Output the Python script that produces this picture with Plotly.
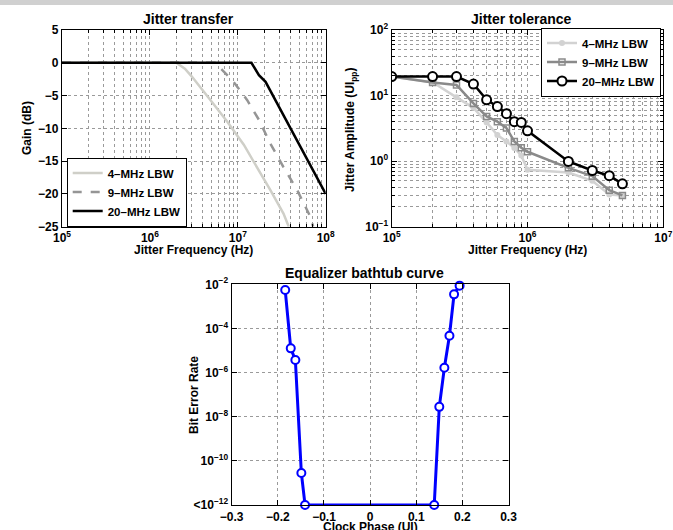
import plotly.graph_objects as go

# ---------------- data ----------------
transfer_freq_4 = [1e5, 2.0e6, 2.5e6, 3.0e6, 4.9e6, 7.6e6, 1.17e7, 1.66e7, 2.34e7, 3.31e7, 3.8e7]
transfer_gain_4 = [0, 0, -0.9, -2.1, -5.7, -9.0, -12.5, -15.9, -19.4, -23.0, -25.0]
transfer_freq_9 = [1e5, 5.5e6, 8.6e6, 1.28e7, 1.74e7, 2.34e7, 3.31e7, 4.73e7, 6.7e7, 7.2e7]
transfer_gain_9 = [0, 0, -2.6, -5.7, -8.7, -12.3, -15.9, -19.4, -23.5, -25.0]
transfer_freq_20 = [1e5, 1.43e7, 1.74e7, 2.07e7, 1e8]
transfer_gain_20 = [0, 0, -1.9, -2.9, -20.0]

tol_freq = [1e5, 2e5, 3e5, 4e5, 5e5, 6e5, 7e5, 8e5, 9e5, 1e6, 2e6, 3e6, 4e6, 5e6]
tol_4 = [19.5, 16.0, 9.4, 6.5, 3.9, 2.5, 2.0, 1.58, 1.22, 0.74, 0.67, 0.50, 0.31, 0.30]
tol_9 = [19.5, 15.8, 14.5, 7.6, 4.8, 4.0, 3.2, 2.0, 1.6, 1.39, 0.79, 0.59, 0.36, 0.30]
tol_20 = [19.5, 19.5, 19.5, 15.0, 8.6, 6.8, 5.3, 4.0, 3.9, 2.9, 0.99, 0.72, 0.60, 0.45]

bt_phase = [-0.184, -0.172, -0.162, -0.149, -0.141, 0.139, 0.150, 0.161, 0.172, 0.182, 0.194]
bt_ber = [5.5e-3, 1.25e-5, 3.7e-6, 2.8e-11, 1e-12, 1e-12, 2.8e-8, 1.65e-6, 4.7e-5, 3.5e-3, 8.7e-3]

series_names = ["4\u2013MHz LBW", "9\u2013MHz LBW", "20\u2013MHz LBW"]

transfer_xticks = [1e5, 1e6, 1e7, 1e8]
transfer_xtext = ["10<sup>5</sup>", "10<sup>6</sup>", "10<sup>7</sup>", "10<sup>8</sup>"]
transfer_yticks = [-25, -20, -15, -10, -5, 0, 5]
tol_xticks = [1e5, 1e6, 1e7]
tol_xtext = ["10<sup>5</sup>", "10<sup>6</sup>", "10<sup>7</sup>"]
tol_yticks = [0.1, 1, 10, 100]
tol_ytext = ["10<sup>\u22121</sup>", "10<sup>0</sup>", "10<sup>1</sup>", "10<sup>2</sup>"]
bt_yticks = [1e-12, 1e-10, 1e-8, 1e-6, 1e-4, 1e-2]
bt_ytext = ["&lt;10<sup>\u221212</sup>", "10<sup>\u221210</sup>", "10<sup>\u22128</sup>",
            "10<sup>\u22126</sup>", "10<sup>\u22124</sup>", "10<sup>\u22122</sup>"]
bt_xticks = [-0.3, -0.2, -0.1, 0, 0.1, 0.2, 0.3]

# ---------------- layout helpers ----------------
W, H = 673, 530
FONT = "Liberation Sans"


def dx(a, b):
    return [a / W, b / W]


def dy(top, bottom):
    return [1 - bottom / H, 1 - top / H]


def minor_log(lo, hi):
    vals = []
    for e in range(lo, hi):
        for m in range(2, 10):
            vals.append(m * 10 ** e)
    return vals


tickfont = dict(family=FONT, size=12, color="black", weight="bold")
GRID = "#9a9a9a"

base_axis = dict(showline=True, linecolor="black", linewidth=1.3, mirror="ticks",
                 ticks="inside", ticklen=5, tickcolor="black", tickwidth=1,
                 tickfont=tickfont, zeroline=False, showgrid=True, automargin=False,
                 gridcolor=GRID, griddash="dot", gridwidth=1)

fig = go.Figure()

# ---- Jitter transfer ----
fig.add_trace(go.Scatter(x=transfer_freq_4, y=transfer_gain_4, mode="lines", name=series_names[0],
                         line=dict(color="#cfcfc8", width=2.5), xaxis="x", yaxis="y", legend="legend"))
fig.add_trace(go.Scatter(x=transfer_freq_9, y=transfer_gain_9, mode="lines", name=series_names[1],
                         line=dict(color="#959595", width=2.5, dash="dash"), xaxis="x", yaxis="y", legend="legend"))
fig.add_trace(go.Scatter(x=transfer_freq_20, y=transfer_gain_20, mode="lines", name=series_names[2],
                         line=dict(color="black", width=2.5), xaxis="x", yaxis="y", legend="legend"))

# ---- Jitter tolerance ----
fig.add_trace(go.Scatter(x=tol_freq, y=tol_4, mode="lines+markers", name=series_names[0],
                         line=dict(color="#d2d2d2", width=2.5),
                         marker=dict(symbol="circle", size=6, color="#d2d2d2"),
                         xaxis="x2", yaxis="y2", legend="legend2"))
fig.add_trace(go.Scatter(x=tol_freq, y=tol_9, mode="lines+markers", name=series_names[1],
                         line=dict(color="#8a8a8a", width=2.5),
                         marker=dict(symbol="square-open", size=6, color="#8a8a8a", line=dict(width=1.5)),
                         xaxis="x2", yaxis="y2", legend="legend2"))
fig.add_trace(go.Scatter(x=tol_freq, y=tol_20, mode="lines+markers", name=series_names[2],
                         line=dict(color="black", width=2.5),
                         marker=dict(symbol="circle", size=9, color="white", line=dict(color="black", width=2)),
                         xaxis="x2", yaxis="y2", legend="legend2"))

# ---- Bathtub ----
fig.add_trace(go.Scatter(x=bt_phase, y=bt_ber, mode="lines+markers", showlegend=False,
                         line=dict(color="#0000ff", width=3),
                         marker=dict(symbol="circle", size=8, color="white", line=dict(color="#0000ff", width=2)),
                         cliponaxis=False, xaxis="x3", yaxis="y3"))

legend_font = dict(family=FONT, size=11.5, color="black", weight="bold")

fig.update_layout(
    width=W, height=H, margin=dict(l=0, r=0, t=0, b=0, autoexpand=False),
    paper_bgcolor="white", plot_bgcolor="white",
    font=dict(family=FONT, color="black"),
    xaxis=dict(base_axis, type="log", domain=dx(62, 325.7), range=[5, 8],
               tickvals=transfer_xticks, ticktext=transfer_xtext, anchor="y",
               minor=dict(tickvals=minor_log(5, 8), showgrid=True, griddash="dot", gridcolor=GRID,
                          ticks="inside", ticklen=3, tickcolor="black")),
    yaxis=dict(base_axis, domain=dy(30, 226.7), range=[-25, 5], tickvals=transfer_yticks, anchor="x"),
    xaxis2=dict(base_axis, type="log", domain=dx(391.7, 663.3), range=[5, 7],
                tickvals=tol_xticks, ticktext=tol_xtext, anchor="y2",
                minor=dict(tickvals=minor_log(5, 7), showgrid=True, griddash="dot", gridcolor=GRID,
                           ticks="inside", ticklen=3, tickcolor="black")),
    yaxis2=dict(base_axis, type="log", domain=dy(30, 226.7), range=[-1, 2],
                tickvals=tol_yticks, ticktext=tol_ytext, anchor="x2",
                minor=dict(tickvals=minor_log(-1, 2), showgrid=True, griddash="dot", gridcolor=GRID,
                           ticks="inside", ticklen=3, tickcolor="black")),
    xaxis3=dict(base_axis, domain=dx(231.7, 508.5), range=[-0.3, 0.3], tickvals=bt_xticks, anchor="y3"),
    yaxis3=dict(base_axis, type="log", domain=dy(284.3, 505), range=[-12, -2],
                tickvals=bt_yticks, ticktext=bt_ytext, anchor="x3"),
    legend=dict(x=66.7 / W, y=1 - 192 / H, xanchor="left", yanchor="middle",
                bgcolor="white", bordercolor="black", borderwidth=1,
                font=legend_font, tracegroupgap=0, itemwidth=30),
    legend2=dict(x=661 / W, y=1 - 62 / H, xanchor="right", yanchor="middle",
                 bgcolor="white", bordercolor="black", borderwidth=1,
                 font=legend_font, tracegroupgap=0, itemwidth=30),
)

# gray strip along the top
fig.add_shape(type="rect", xref="paper", yref="paper", x0=0, x1=1, y0=1 - 5 / H, y1=1,
              fillcolor="#d0d0d0", line=dict(width=0), layer="above")


def ann(text, x, y, size=12, angle=0):
    fig.add_annotation(text=text, x=x / W, y=1 - y / H, xref="paper", yref="paper",
                       showarrow=False, textangle=angle, xanchor="center", yanchor="middle",
                       font=dict(family=FONT, size=size, color="black", weight="bold"))


ann("Jitter transfer", 188, 19, size=14)
ann("Jitter tolerance", 521, 19, size=14)
ann("Equalizer bathtub curve", 364, 273, size=14)
ann("Jitter Frequency (Hz)", 193, 250)
ann("Jitter Frequency (Hz)", 527, 250)
ann("Gain (dB)", 27, 128, angle=-90)
ann("Jitter Amplitude (UI<sub>pp</sub>)", 351, 130, angle=-90)
ann("Bit Error Rate", 194, 395, angle=-90)
ann("Clock Phase (UI)", 370, 527)

fig.write_html("out.html", config={"displayModeBar": False},
               post_script="document.body.style.margin='0';document.body.style.overflow='hidden';")
